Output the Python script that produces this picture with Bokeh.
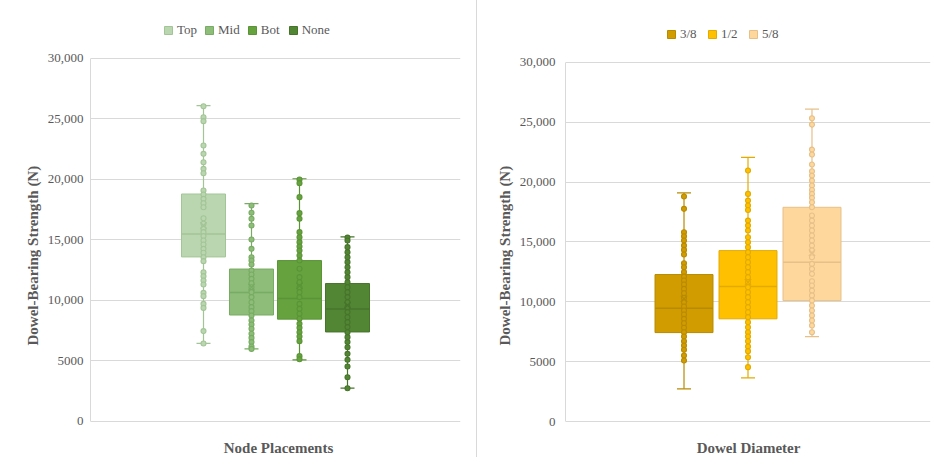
from bokeh.plotting import figure
from bokeh.models import (ColumnDataSource, FactorRange, Range1d, Whisker, TeeHead,
                          Legend, LegendItem, FixedTicker, Title, Label)
from bokeh.transform import dodge
from bokeh.layouts import row
from bokeh.embed import file_html
from bokeh.resources import INLINE

# ---------------- data: left chart (node placements) ----------------
placements = ["Top", "Mid", "Bot", "None"]
pl_lower = [6450, 6000, 5100, 2750]
pl_q1 = [13600, 8800, 8460, 7400]
pl_median = [15500, 10660, 10170, 9300]
pl_q3 = [18800, 12600, 13300, 11400]
pl_upper = [26100, 18000, 20060, 15260]
pl_mean = [16200, 11100, 11200, 9600]

top_pts = [26050, 25150, 24820, 22810, 22120, 21430, 20880, 20520, 19090, 18760, 18400,
           18040, 17710, 16800, 16340, 15920, 15650, 15320, 14960, 14630, 14270, 13940,
           13580, 13250, 12340, 12010, 11650, 11320, 10630, 10360, 9720, 9390, 7470, 6450]
mid_pts = [17850, 17250, 16750, 16200, 15040, 14270, 13580, 13310, 12980, 12480, 12150,
           11790, 11430, 11100, 10690, 10280, 9860, 9450, 9120, 8760, 8350, 8020, 7660,
           7250, 6910, 6560, 6200, 6000]
bot_pts = [20000, 19700, 18540, 17220, 16750, 15650, 15230, 14820, 14460, 14130, 13720,
           13310, 12620, 11930, 11510, 11100, 10690, 10280, 9720, 9310, 8900, 8490, 8070,
           7740, 7380, 7020, 6640, 5400, 5150]
none_pts = [15200, 14960, 14410, 13990, 13580, 13170, 12750, 12340, 11930, 11510, 11100,
            10690, 10280, 9860, 9450, 9040, 8620, 8210, 7800, 7380, 6970, 6560, 6140,
            5590, 5100, 4550, 3660, 2750]

# ---------------- data: right chart (dowel diameter) ----------------
diameters = ["3/8", "1/2", "5/8"]
dd_lower = [2730, 3650, 7100]
dd_q1 = [7430, 8580, 10100]
dd_median = [9470, 11280, 13300]
dd_q3 = [12280, 14280, 17900]
dd_upper = [19100, 22080, 26100]
dd_mean = [10250, 11640, 14100]

d38_pts = [18800, 17770, 15820, 15480, 15120, 14700, 14340, 13950, 13230, 12890, 12480,
           12110, 11780, 11450, 11080, 10720, 10330, 9970, 9610, 9270, 8940, 8580, 8210,
           7830, 7460, 7100, 6710, 6350, 5990, 5510, 5100]
d12_pts = [20970, 19020, 18460, 18050, 17680, 16790, 16370, 15960, 15400, 14980, 14560,
           14150, 13730, 13310, 12890, 12480, 12060, 11640, 11220, 10800, 10390, 9970,
           9550, 9130, 8720, 8300, 7880, 7460, 7100, 6710, 6270, 5880, 5370, 4540]
d58_pts = [25340, 24810, 22720, 22310, 21470, 20910, 20550, 20130, 19720, 19350, 19020,
           18690, 18320, 17910, 17210, 16790, 16370, 15960, 15540, 15120, 14700, 14290,
           13730, 13170, 12750, 12340, 11720, 11360, 10940, 10530, 10110, 9690, 9270,
           8860, 8440, 8020, 7460]

y_ticks = [0, 5000, 10000, 15000, 20000, 25000, 30000]
y_tick_labels = ["0", "5000", "10,000", "15,000", "20,000", "25,000", "30,000"]
y_axis_title = "Dowel-Bearing Strength (N)"

FONT = "Liberation Serif"
TXT = "#595959"
GRID = "#d9d9d9"


def make_chart(cats, lower, q1, med, q3, upper, mean, pts, fills, lines, xlabel,
               width, height, borders, pad, box_w, legend_loc, tick_standoff, y_span,
               xlabel_pos):
    p = figure(x_range=FactorRange(*cats, range_padding=pad, range_padding_units="absolute"),
               y_range=Range1d(*y_span), width=width, height=height,
               output_backend="svg", toolbar_location=None,
               min_border_left=borders[0], min_border_right=borders[1],
               min_border_top=borders[2], min_border_bottom=borders[3])
    p.outline_line_color = None
    p.xgrid.grid_line_color = None
    p.ygrid.grid_line_color = GRID
    p.yaxis.ticker = FixedTicker(ticks=y_ticks)
    p.yaxis.bounds = (y_ticks[0], y_ticks[-1])
    p.yaxis.major_label_overrides = {t: l for t, l in zip(y_ticks, y_tick_labels)}
    p.yaxis.axis_line_color = GRID
    p.yaxis.major_tick_line_color = None
    p.yaxis.minor_tick_line_color = None
    p.yaxis.major_tick_out = 0
    p.yaxis.major_label_standoff = tick_standoff
    p.yaxis.major_label_text_font = FONT
    p.yaxis.major_label_text_font_size = "13px"
    p.yaxis.major_label_text_color = TXT

    p.add_layout(Title(text=y_axis_title, align="left", offset=108, text_font=FONT,
                       text_font_size="15px", text_font_style="bold", text_color=TXT,
                       standoff=8), "left")

    p.xaxis.visible = False
    p.add_layout(Label(x=xlabel_pos[0], y=xlabel_pos[1], x_units="screen", y_units="screen",
                       text=xlabel, text_align="center", text_baseline="middle",
                       text_font=FONT, text_font_size="15px", text_font_style="bold",
                       text_color=TXT))

    src = ColumnDataSource(dict(cat=cats, lower=lower, q1=q1, med=med, q3=q3,
                                upper=upper, mean=mean, fill=fills, line=lines))
    # whiskers
    for i, c in enumerate(cats):
        s = ColumnDataSource(dict(cat=[c], lower=[lower[i]], q1=[q1[i]],
                                  q3=[q3[i]], upper=[upper[i]]))
        p.add_layout(Whisker(base="cat", upper="upper", lower="q3", source=s,
                             line_color=lines[i], line_width=1.2,
                             upper_head=TeeHead(size=14, line_color=lines[i], line_width=1.2),
                             lower_head=None))
        p.add_layout(Whisker(base="cat", upper="q1", lower="lower", source=s,
                             line_color=lines[i], line_width=1.2,
                             lower_head=TeeHead(size=14, line_color=lines[i], line_width=1.2),
                             upper_head=None))
    boxes = p.vbar(x="cat", top="q3", bottom="q1", width=box_w, source=src,
                   fill_color="fill", line_color="line", line_width=1)
    p.segment(x0=dodge("cat", -box_w / 2, range=p.x_range), y0="med",
              x1=dodge("cat", box_w / 2, range=p.x_range), y1="med",
              line_color="line", line_width=1.5, source=src)
    # inner points
    px, py, pf, pl = [], [], [], []
    for i, c in enumerate(cats):
        for v in pts[i]:
            px.append(c); py.append(v); pf.append(fills[i]); pl.append(lines[i])
    p.scatter(x=px, y=py, size=5, fill_color=pf, line_color=pl, line_width=1.1)
    p.scatter(x="cat", y="mean", marker="x", size=9, line_color="line",
              line_width=1.2, source=src)

    legend = Legend(items=[LegendItem(label=c, renderers=[boxes], index=i)
                           for i, c in enumerate(cats)],
                    orientation="horizontal", location=legend_loc,
                    glyph_width=10, glyph_height=10, label_height=10,
                    label_standoff=4, spacing=7, padding=0, margin=0,
                    border_line_color=None, background_fill_alpha=0,
                    label_text_font=FONT, label_text_font_size="13px",
                    label_text_color=TXT)
    p.add_layout(legend, "center")
    return p


p1 = make_chart(placements, pl_lower, pl_q1, pl_median, pl_q3, pl_upper, pl_mean,
                [top_pts, mid_pts, bot_pts, none_pts],
                ["#bad6b0", "#8dbd78", "#66a33f", "#538634"],
                ["#a3c596", "#78ab63", "#5a9436", "#46742b"],
                "Node Placements", 476, 457, (90, 16, 14, 4), 1.854, 0.917, (73, 415), 7,
                (-2645, 33636), (188, 6))
p2 = make_chart(diameters, dd_lower, dd_q1, dd_median, dd_q3, dd_upper, dd_mean,
                [d38_pts, d12_pts, d58_pts],
                ["#d09c00", "#ffc000", "#fdd79c"],
                ["#b88a00", "#e3aa00", "#e6c088"],
                "Dowel Diameter", 466, 457, (88, 13, 14, 4), 1.352, 0.906, (101, 411), 10,
                (-2674, 34011), (183, 6))
p2.styles = {"border-left": "1px solid #d9d9d9"}

layout = row(p1, p2)
open("out.html", "w").write(file_html(layout, INLINE))
